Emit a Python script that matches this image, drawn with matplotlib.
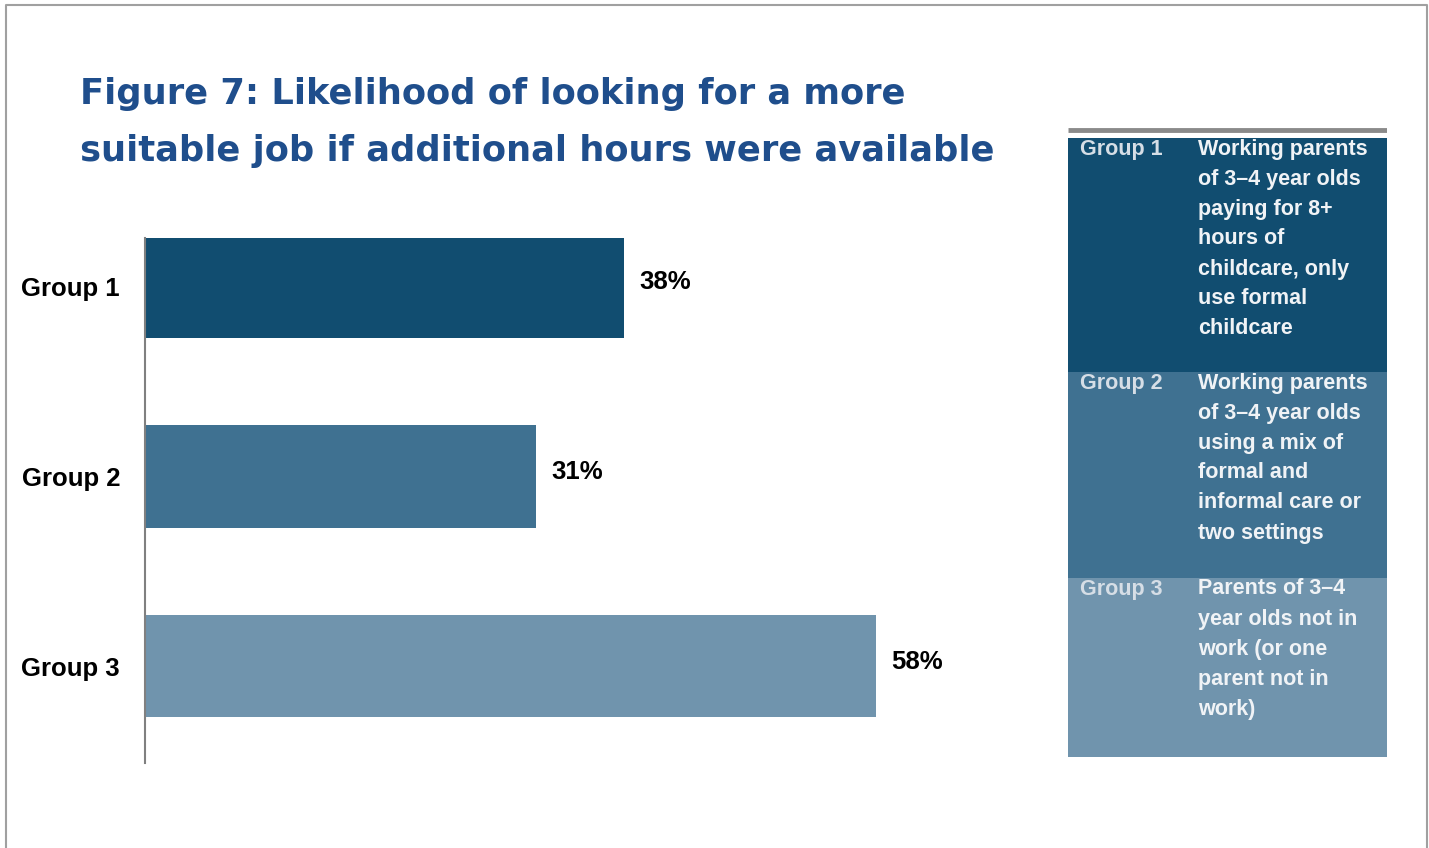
import matplotlib.pyplot as plt
from matplotlib.lines import Line2D
from matplotlib.patches import Rectangle

W, H = 1429, 848

groups = ['Group 1', 'Group 2', 'Group 3']
likelihood = [38, 31, 58]
bar_colors = ['#114d70', '#3f7191', '#7094ad']

descriptions = [
    ['Working parents', 'of 3–4 year olds', 'paying for 8+', 'hours of',
     'childcare, only', 'use formal', 'childcare'],
    ['Working parents', 'of 3–4 year olds', 'using a mix of', 'formal and',
     'informal care or', 'two settings'],
    ['Parents of 3–4', 'year olds not in', 'work (or one', 'parent not in',
     'work)'],
]

title_lines = ['Figure 7: Likelihood of looking for a more',
               'suitable job if additional hours were available']

plt.rcParams['font.family'] = ['Liberation Sans', 'DejaVu Sans']

fig = plt.figure(figsize=(W / 100, H / 100), dpi=100)


def px_rect(x0, y0, x1, y1):
    # pixel box (top-left origin) -> figure fraction rect
    return [x0 / W, 1 - y1 / H, (x1 - x0) / W, (y1 - y0) / H]


# outer frame (open at the bottom)
frame_x = [6, 6, 1427, 1427]
frame_y = [848, 5, 5, 848]
fig.add_artist(Line2D([x / W for x in frame_x], [1 - y / H for y in frame_y],
                      color='#a0a0a0', lw=1.5))

for i, line in enumerate(title_lines):
    fig.text(80 / W, 1 - (104 + 57 * i) / H, line, ha='left', va='baseline',
             fontsize=25.4, fontweight='bold', color='#1f4e8c',
             family='DejaVu Sans')

# bar chart
ax = fig.add_axes(px_rect(145, 238, 1027, 763))
pos = range(len(groups))
ax.barh(pos, likelihood, height=0.54, color=bar_colors)
for y, v in zip(pos, likelihood):
    ax.annotate(f'{v}%', (v, y), xytext=(11, 3), textcoords='offset points',
                va='center', ha='left', fontsize=18.5, fontweight='bold')
ax.set_xlim(0, 70)
ax.set_ylim(2.511, -0.256)
ax.set_yticks(list(pos), groups, fontsize=18.5, fontweight='bold')
ax.tick_params(axis='y', length=0, pad=18)
ax.set_xticks([])
for s in ['top', 'right', 'bottom']:
    ax.spines[s].set_visible(False)
ax.spines['left'].set_color('#808080')
ax.spines['left'].set_linewidth(1.5)

# key panel, drawn in pixel coordinates
kx = fig.add_axes(px_rect(1068, 124, 1387, 757))
kx.set_xlim(1068, 1387)
kx.set_ylim(757, 124)
kx.axis('off')
kx.plot([1068, 1387], [129.5, 129.5], color='#8a8a8a', lw=3.5,
        solid_capstyle='butt')
rows = [(138, 372), (372, 578), (578, 757)]
for (top, bot), name, lines, c in zip(rows, groups, descriptions, bar_colors):
    kx.add_patch(Rectangle((1068, top), 319, bot - top, color=c, lw=0))
    kx.text(1080, top + 11, name, ha='left', va='center', fontsize=15.5,
            fontweight='bold', color='#d6dee6')
    for i, line in enumerate(lines):
        kx.text(1198, top + 11 + 30 * i, line, ha='left', va='center',
                fontsize=15.5, fontweight='bold', color='#f0f3f6')

fig.savefig('out.png', dpi=100)
